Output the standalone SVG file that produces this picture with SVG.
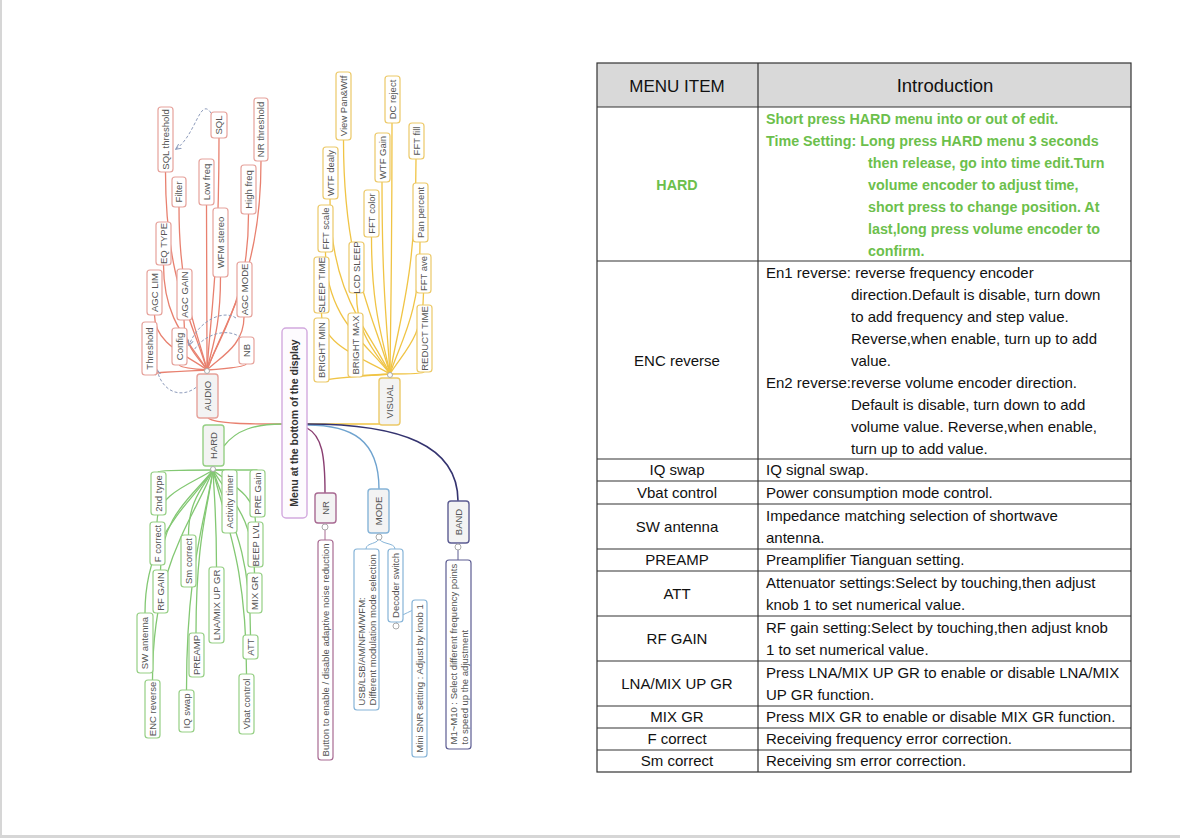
<svg xmlns="http://www.w3.org/2000/svg" width="1180" height="838" viewBox="0 0 1180 838">
<defs>
<style>
.n rect{fill:#fff;stroke-width:1.2}
.m rect{fill:#f3f3f3;stroke-width:1.4}
.a rect{stroke:#e6a29b}
.v rect{stroke:#ecc968}
.h rect{stroke:#95cf84}
.nr rect{stroke:#a86a92}
.md rect{stroke:#86b4d8}
.bd rect{stroke:#5c5c92}
.t{font-family:"Liberation Sans",Arial,sans-serif;font-size:9.5px;fill:#555;text-anchor:middle}
.tl{font-family:"Liberation Sans",Arial,sans-serif;font-size:9.5px;fill:#555;text-anchor:start}
.ca path{fill:none;stroke:#e8806f;stroke-width:1.3}
.cv path{fill:none;stroke:#f0c445;stroke-width:1.3}
.ch path{fill:none;stroke:#83c873;stroke-width:1.3}
.dash{fill:none;stroke:#8d9bbb;stroke-width:1;stroke-dasharray:3 2}
.dot{fill:#fff;stroke:#aaa;stroke-width:1}
.tb{font-family:"Liberation Sans",Arial,sans-serif;font-size:15px;fill:#111}
.tc{text-anchor:middle}
.g{fill:#6cbf4c;font-weight:bold;font-size:14.3px}
.grid{stroke:#333;stroke-width:1.2;fill:none}
</style>
<marker id="arr" viewBox="0 0 6 6" refX="5" refY="3" markerWidth="6" markerHeight="6" orient="auto"><path d="M0 0.5 L5.5 3 L0 5.5" fill="none" stroke="#8d9bbb" stroke-width="1"/></marker>
</defs>
<rect width="1180" height="838" fill="#fff"/>
<rect x="0" y="0" width="2" height="838" fill="#d6d6d6"/>
<rect x="0" y="835" width="1180" height="3" fill="#d6d6d6"/>

<g id="connectors">
<g class="ca">
<path d="M282 424 C250 424 216 424 208 418" stroke-width="2"/>
<path d="M207 370 C192.5 320.5 165.5 281 165.5 172"/>
<path d="M207 370 C211 312 219 266 219 138"/>
<path d="M207 370 C226 318 261 276 261 161"/>
<path d="M207 370 C197 329 179 297 179 207"/>
<path d="M207 370 C207 329 206.5 296 206.5 205"/>
<path d="M207 370 C221.5 331 248.5 300 248.5 214"/>
<path d="M207 370 C192 344 163.5 323 163.5 265"/>
<path d="M207 370 C212 347 220.5 328 220.5 277"/>
<path d="M207 370 C189 356 154.5 345 154.5 315"/>
<path d="M207 370 C199 357.5 184 347.5 184 320"/>
<path d="M207 370 C220 357 244 346 244 317"/>
<path d="M207 370 C187 371 149.5 372 149.5 375"/>
<path d="M207 370 C197 369 179.5 368 179.5 365"/>
<path d="M207 370 C221 369 246 367 246 364"/>
</g>
<g class="cv">
<path d="M307 424 L380 424" stroke-width="1.8"/>
<path d="M390 374 C374 315.5 343.5 269 343.5 140"/>
<path d="M390 374 C390.7 311 392 261 392 123"/>
<path d="M390 374 C369 330 330 295 330 199"/>
<path d="M390 374 C387 326 382 288 382 182"/>
<path d="M390 374 C399 320 416 277 416 159"/>
<path d="M390 374 C383.5 340 371.5 312 371.5 237"/>
<path d="M390 374 C367 343.5 325.5 319 325.5 252"/>
<path d="M390 374 C400.5 341 420 315 420 242"/>
<path d="M390 374 C366 359 321.5 346.6 321.5 313"/>
<path d="M390 374 C378 354 356.5 337.6 356.5 293"/>
<path d="M390 374 C401.7 354 423.5 337.6 423.5 293"/>
<path d="M390 374 C366 376 321.5 378 321.5 382"/>
<path d="M390 374 C378 375 355.5 375 355.5 377"/>
<path d="M390 374 C402 374 424 374 424 372"/>
</g>
<g class="ch">
<path d="M282 424 C255 424 236 430 224 446" stroke-width="1.6"/>
<path d="M213 470 C194 470 158 470 158 472"/>
<path d="M213 470 L229.5 470"/>
<path d="M213 470 L257.5 470"/>
<path d="M213 470 C193.4 483 157 493.4 157 522"/>
<path d="M213 470 C204.4 486 188.5 499 188.5 535"/>
<path d="M213 470 C228 483 255.5 493.4 255.5 522"/>
<path d="M213 470 C194.6 495 160.5 515 160.5 570"/>
<path d="M213 470 C214 494 216.5 514 216.5 567"/>
<path d="M213 470 C227.5 496 254.5 516 254.5 573"/>
<path d="M213 470 C189 506 145 534 145 613"/>
<path d="M213 470 C207 511 196 543 196 633"/>
<path d="M213 470 C226 511 250.5 544 250.5 635"/>
<path d="M213 470 C192 522.5 152.5 564.5 152.5 680"/>
<path d="M213 470 C204 525 186.5 569 186.5 690"/>
<path d="M213 470 C224.7 521 246.5 562 246.5 674"/>
</g>
<path d="M307 428 C322 436 325 455 325 493" fill="none" stroke="#8a3f72" stroke-width="1.4"/>
<path d="M307 425 C352 425 379 440 379 489" fill="none" stroke="#6fa3cf" stroke-width="1.4"/>
<path d="M307 424 C400 424 458 445 458 501" fill="none" stroke="#34336f" stroke-width="1.6"/>
<path d="M325 527 L325 540" fill="none" stroke="#a86a92" stroke-width="1"/>
<path d="M379 537 C379 545 366 542 366 549" fill="none" stroke="#86b4d8" stroke-width="1"/>
<path d="M379 537 C379 545 395 542 395 549" fill="none" stroke="#86b4d8" stroke-width="1"/>
<path d="M396 626 C396 610 419 615 419 600" fill="none" stroke="#86b4d8" stroke-width="1"/>
<path d="M458 547 L458 560" fill="none" stroke="#5c5c92" stroke-width="1"/>
<path class="dash" d="M211 113 C200 96 196 135 176 149" marker-end="url(#arr)"/>
<path class="dash" d="M236 318 C225 310 200 318 189 345" marker-end="url(#arr)"/>
<path class="dash" d="M241 338 C230 328 206 332 194 350"/>
<path class="dash" d="M203 380 C190 399 164 398 157 370" marker-end="url(#arr)"/>
</g>

<g id="center"><rect x="282" y="328" width="25" height="190" rx="4" fill="#fdfbfe" stroke="#d2a9de" stroke-width="1.4"/><text transform="translate(294.5 423) rotate(-90)" dy=".35em" style="font-family:'Liberation Sans',Arial,sans-serif;font-size:10.5px;font-weight:bold;fill:#333;text-anchor:middle">Menu at the bottom of the display</text></g>

<g id="audio" class="m a"><rect x="197" y="374" width="21" height="44" rx="3"/><text class="t" transform="translate(207.5 396) rotate(-90)" dy=".35em">AUDIO</text></g>
<g id="sql-threshold" class="n a"><rect x="158" y="107" width="15" height="65" rx="3"/><text class="t" transform="translate(165.5 139.5) rotate(-90)" dy=".35em">SQL threshold</text></g>
<g id="sql" class="n a"><rect x="211" y="112" width="16" height="26" rx="3"/><text class="t" transform="translate(219 125) rotate(-90)" dy=".35em">SQL</text></g>
<g id="nr-threshold" class="n a"><rect x="254" y="98" width="14" height="63" rx="3"/><text class="t" transform="translate(261 129.5) rotate(-90)" dy=".35em">NR threshold</text></g>
<g id="filter" class="n a"><rect x="172" y="177" width="14" height="30" rx="3"/><text class="t" transform="translate(179 192) rotate(-90)" dy=".35em">Filter</text></g>
<g id="low-freq" class="n a"><rect x="199" y="159" width="15" height="46" rx="3"/><text class="t" transform="translate(206.5 182) rotate(-90)" dy=".35em">Low freq</text></g>
<g id="high-freq" class="n a"><rect x="241" y="165" width="15" height="49" rx="3"/><text class="t" transform="translate(248.5 189.5) rotate(-90)" dy=".35em">High freq</text></g>
<g id="eq-type" class="n a"><rect x="156" y="222" width="15" height="43" rx="3"/><text class="t" transform="translate(163.5 243.5) rotate(-90)" dy=".35em">EQ TYPE</text></g>
<g id="wfm-stereo" class="n a"><rect x="213" y="208" width="15" height="69" rx="3"/><text class="t" transform="translate(220.5 242.5) rotate(-90)" dy=".35em">WFM stereo</text></g>
<g id="agc-lim" class="n a"><rect x="147" y="270" width="15" height="45" rx="3"/><text class="t" transform="translate(154.5 292.5) rotate(-90)" dy=".35em">AGC LIM</text></g>
<g id="agc-gain" class="n a"><rect x="177" y="269" width="15" height="51" rx="3"/><text class="t" transform="translate(184.5 294.5) rotate(-90)" dy=".35em">AGC GAIN</text></g>
<g id="agc-mode" class="n a"><rect x="237" y="262" width="15" height="55" rx="3"/><text class="t" transform="translate(244.5 289.5) rotate(-90)" dy=".35em">AGC MODE</text></g>
<g id="threshold" class="n a"><rect x="142" y="322" width="15" height="53" rx="3"/><text class="t" transform="translate(149.5 348.5) rotate(-90)" dy=".35em">Threshold</text></g>
<g id="config" class="n a"><rect x="172" y="328" width="15" height="37" rx="3"/><text class="t" transform="translate(179.5 346.5) rotate(-90)" dy=".35em">Config</text></g>
<g id="nb" class="n a"><rect x="239" y="337" width="15" height="27" rx="3"/><text class="t" transform="translate(246.5 350.5) rotate(-90)" dy=".35em">NB</text></g>

<g id="visual" class="m v"><rect x="379" y="378" width="21" height="47" rx="3"/><text class="t" transform="translate(389.5 401.5) rotate(-90)" dy=".35em">VISUAL</text></g>
<g id="view-pan-wtf" class="n v"><rect x="336" y="72" width="15" height="68" rx="3"/><text class="t" transform="translate(343.5 106) rotate(-90)" dy=".35em">View Pan&amp;Wtf</text></g>
<g id="dc-reject" class="n v"><rect x="385" y="76" width="15" height="47" rx="3"/><text class="t" transform="translate(392.5 99.5) rotate(-90)" dy=".35em">DC reject</text></g>
<g id="wtf-dealy" class="n v"><rect x="323" y="147" width="15" height="52" rx="3"/><text class="t" transform="translate(330.5 173) rotate(-90)" dy=".35em">WTF dealy</text></g>
<g id="wtf-gain" class="n v"><rect x="375" y="133" width="15" height="49" rx="3"/><text class="t" transform="translate(382.5 157.5) rotate(-90)" dy=".35em">WTF Gain</text></g>
<g id="fft-fill" class="n v"><rect x="409" y="123" width="15" height="36" rx="3"/><text class="t" transform="translate(416.5 141) rotate(-90)" dy=".35em">FFT fill</text></g>
<g id="fft-color" class="n v"><rect x="364" y="190" width="15" height="47" rx="3"/><text class="t" transform="translate(371.5 213.5) rotate(-90)" dy=".35em">FFT color</text></g>
<g id="fft-scale" class="n v"><rect x="318" y="205" width="15" height="47" rx="3"/><text class="t" transform="translate(325.5 228.5) rotate(-90)" dy=".35em">FFT scale</text></g>
<g id="pan-percent" class="n v"><rect x="413" y="183" width="15" height="59" rx="3"/><text class="t" transform="translate(420.5 212.5) rotate(-90)" dy=".35em">Pan percent</text></g>
<g id="sleep-time" class="n v"><rect x="314" y="257" width="15" height="56" rx="3"/><text class="t" transform="translate(321.5 285) rotate(-90)" dy=".35em">SLEEP TIME</text></g>
<g id="lcd-sleep" class="n v"><rect x="349" y="242" width="15" height="51" rx="3"/><text class="t" transform="translate(356.5 267.5) rotate(-90)" dy=".35em">LCD SLEEP</text></g>
<g id="fft-ave" class="n v"><rect x="416" y="254" width="15" height="39" rx="3"/><text class="t" transform="translate(423.5 273.5) rotate(-90)" dy=".35em">FFT ave</text></g>
<g id="bright-min" class="n v"><rect x="314" y="318" width="15" height="64" rx="3"/><text class="t" transform="translate(321.5 350) rotate(-90)" dy=".35em">BRIGHT MIN</text></g>
<g id="bright-max" class="n v"><rect x="348" y="313" width="15" height="64" rx="3"/><text class="t" transform="translate(355.5 345) rotate(-90)" dy=".35em">BRIGHT MAX</text></g>
<g id="reduct-time" class="n v"><rect x="417" y="305" width="15" height="67" rx="3"/><text class="t" transform="translate(424.5 338.5) rotate(-90)" dy=".35em">REDUCT TIME</text></g>

<g id="hard" class="m h"><rect x="203" y="425" width="21" height="41" rx="3"/><text class="t" transform="translate(213.5 445.5) rotate(-90)" dy=".35em">HARD</text></g>
<g id="2nd-type" class="n h"><rect x="151" y="472" width="15" height="43" rx="3"/><text class="t" transform="translate(158.5 493.5) rotate(-90)" dy=".35em">2nd type</text></g>
<g id="activity-timer" class="n h"><rect x="222" y="470" width="15" height="63" rx="3"/><text class="t" transform="translate(229.5 501.5) rotate(-90)" dy=".35em">Activity timer</text></g>
<g id="pre-gain" class="n h"><rect x="250" y="470" width="15" height="47" rx="3"/><text class="t" transform="translate(257.5 493.5) rotate(-90)" dy=".35em">PRE Gain</text></g>
<g id="f-correct" class="n h"><rect x="150" y="522" width="15" height="43" rx="3"/><text class="t" transform="translate(157.5 543.5) rotate(-90)" dy=".35em">F correct</text></g>
<g id="sm-correct" class="n h"><rect x="181" y="535" width="15" height="52" rx="3"/><text class="t" transform="translate(188.5 561) rotate(-90)" dy=".35em">Sm correct</text></g>
<g id="beep-lvl" class="n h"><rect x="248" y="522" width="15" height="45" rx="3"/><text class="t" transform="translate(255.5 544.5) rotate(-90)" dy=".35em">BEEP LVL</text></g>
<g id="rf-gain" class="n h"><rect x="153" y="570" width="15" height="43" rx="3"/><text class="t" transform="translate(160.5 591.5) rotate(-90)" dy=".35em">RF GAIN</text></g>
<g id="lna-mix-up-gr" class="n h"><rect x="209" y="567" width="15" height="76" rx="3"/><text class="t" transform="translate(216.5 605) rotate(-90)" dy=".35em">LNA/MIX UP GR</text></g>
<g id="mix-gr" class="n h"><rect x="247" y="573" width="15" height="40" rx="3"/><text class="t" transform="translate(254.5 593) rotate(-90)" dy=".35em">MIX GR</text></g>
<g id="sw-antenna" class="n h"><rect x="137" y="613" width="16" height="60" rx="3"/><text class="t" transform="translate(145 643) rotate(-90)" dy=".35em">SW antenna</text></g>
<g id="preamp" class="n h"><rect x="189" y="633" width="15" height="44" rx="3"/><text class="t" transform="translate(196.5 655) rotate(-90)" dy=".35em">PREAMP</text></g>
<g id="att" class="n h"><rect x="243" y="635" width="15" height="24" rx="3"/><text class="t" transform="translate(250.5 647) rotate(-90)" dy=".35em">ATT</text></g>
<g id="enc-reverse" class="n h"><rect x="145" y="680" width="15" height="58" rx="3"/><text class="t" transform="translate(152.5 709) rotate(-90)" dy=".35em">ENC reverse</text></g>
<g id="iq-swap" class="n h"><rect x="179" y="690" width="15" height="42" rx="3"/><text class="t" transform="translate(186.5 711) rotate(-90)" dy=".35em">IQ swap</text></g>
<g id="vbat-control" class="n h"><rect x="239" y="674" width="15" height="60" rx="3"/><text class="t" transform="translate(246.5 704) rotate(-90)" dy=".35em">Vbat control</text></g>

<g id="nr" class="m nr"><rect x="315" y="493" width="21" height="30" rx="3"/><text class="t" transform="translate(325.5 508) rotate(-90)" dy=".35em">NR</text></g>
<g id="nr-desc" class="n nr"><rect x="318" y="540" width="15" height="220" rx="3"/><text class="t" transform="translate(325.5 650) rotate(-90)" dy=".35em">Button to enable / disable adaptive noise reduction</text></g>
<g id="mode" class="m md"><rect x="368" y="489" width="21" height="44" rx="3"/><text class="t" transform="translate(378.5 511) rotate(-90)" dy=".35em">MODE</text></g>
<g id="mode-desc" class="n md"><rect x="354" y="549" width="25" height="161" rx="3"/><text class="tl" transform="translate(366.5 629.5) rotate(-90)"><tspan x="-76" y="-1.7">USB/LSB/AM/NFM/WFM:</tspan><tspan x="-76" y="9.3">Different modulation mode selection</tspan></text></g>
<g id="decoder-switch" class="n md"><rect x="388" y="549" width="15" height="73" rx="3"/><text class="t" transform="translate(395.5 585.5) rotate(-90)" dy=".35em">Decoder switch</text></g>
<g id="mini-snr" class="n md"><rect x="412" y="600" width="15" height="157" rx="3"/><text class="t" transform="translate(419.5 678.5) rotate(-90)" dy=".35em">Mini SNR setting : Adjust by knob 1</text></g>
<g id="band" class="m bd"><rect x="448" y="501" width="21" height="42" rx="3"/><text class="t" transform="translate(458.5 522) rotate(-90)" dy=".35em">BAND</text></g>
<g id="band-desc" class="n bd"><rect x="446" y="560" width="25" height="189" rx="3"/><text class="tl" transform="translate(458.5 654.5) rotate(-90)"><tspan x="-90" y="-1.7">M1~M10 : Select different frequency points</tspan><tspan x="-90" y="9.3">to speed up the adjustment</tspan></text></g>

<circle class="dot" cx="207" cy="371" r="2.5"/>
<circle class="dot" cx="390" cy="375" r="2.5"/>
<circle class="dot" cx="213" cy="469" r="2.5"/>
<circle class="dot" cx="325" cy="527" r="3"/>
<circle class="dot" cx="379" cy="537" r="3"/>
<circle class="dot" cx="396" cy="626" r="3"/>
<circle class="dot" cx="458" cy="547" r="3"/>

<g id="table">
<rect x="597" y="63" width="534" height="44" fill="#d9d9d9"/>
<rect class="grid" x="597" y="63" width="534" height="709"/>
<line class="grid" x1="758" y1="63" x2="758" y2="772"/>
<path class="grid" d="M597 107H1131M597 261H1131M597 459H1131M597 481H1131M597 504H1131M597 549H1131M597 571H1131M597 616H1131M597 661H1131M597 706H1131M597 728H1131M597 750H1131"/>
<text class="tb tc" x="677" y="92" style="font-size:17px">MENU ITEM</text>
<text class="tb tc" x="945" y="92" style="font-size:18.5px">Introduction</text>
<text class="tb tc g" x="677" y="190">HARD</text>
<g class="tb g">
<text x="766" y="124">Short press HARD menu into or out of edit.</text>
<text x="766" y="146">Time Setting: Long press HARD menu 3 seconds</text>
<text x="868" y="168">then release, go into time edit.Turn</text>
<text x="868" y="190">volume encoder to adjust time,</text>
<text x="868" y="212">short press to change position. At</text>
<text x="868" y="234">last,long press volume encoder to</text>
<text x="868" y="256">confirm.</text>
</g>
<text class="tb tc" x="677" y="366">ENC reverse</text>
<g class="tb">
<text x="766" y="278">En1 reverse: reverse frequency encoder</text>
<text x="851" y="300">direction.Default is disable, turn down</text>
<text x="851" y="322">to add frequency and step value.</text>
<text x="851" y="344">Reverse,when enable, turn up to add</text>
<text x="851" y="366">value.</text>
<text x="766" y="388">En2 reverse:reverse volume encoder direction.</text>
<text x="851" y="410">Default is disable, turn down to add</text>
<text x="851" y="432">volume value. Reverse,when enable,</text>
<text x="851" y="454">turn up to add value.</text>
<text x="766" y="475">IQ signal swap.</text>
<text x="766" y="498">Power consumption mode control.</text>
<text x="766" y="521">Impedance matching selection of shortwave</text>
<text x="766" y="543">antenna.</text>
<text x="766" y="565">Preamplifier Tianguan setting.</text>
<text x="766" y="588">Attenuator settings:Select by touching,then adjust</text>
<text x="766" y="610">knob 1 to set numerical value.</text>
<text x="766" y="633">RF gain setting:Select by touching,then adjust knob</text>
<text x="766" y="655">1 to set numerical value.</text>
<text x="766" y="678">Press LNA/MIX UP GR to enable or disable LNA/MIX</text>
<text x="766" y="700">UP GR function.</text>
<text x="766" y="722">Press MIX GR to enable or disable MIX GR function.</text>
<text x="766" y="744">Receiving frequency error correction.</text>
<text x="766" y="766">Receiving sm error correction.</text>
</g>
<g class="tb tc">
<text x="677" y="475">IQ swap</text>
<text x="677" y="498">Vbat control</text>
<text x="677" y="532">SW antenna</text>
<text x="677" y="565">PREAMP</text>
<text x="677" y="599">ATT</text>
<text x="677" y="644">RF GAIN</text>
<text x="677" y="689">LNA/MIX UP GR</text>
<text x="677" y="722">MIX GR</text>
<text x="677" y="744">F correct</text>
<text x="677" y="766">Sm correct</text>
</g>
</g>
</svg>
